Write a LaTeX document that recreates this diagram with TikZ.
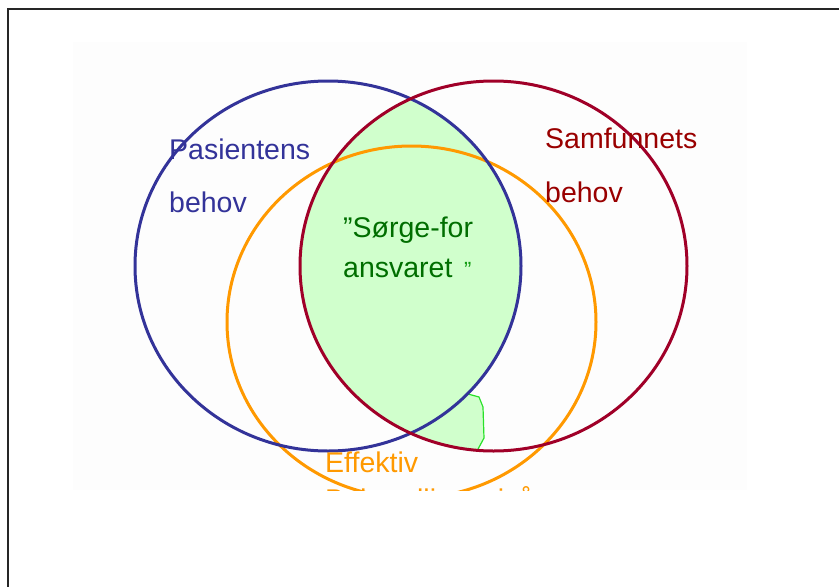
\documentclass[tikz,border=0pt]{standalone}
\usepackage{fontspec}
\setmainfont{Liberation Sans}
\usetikzlibrary{positioning}
\definecolor{pasblue}{RGB}{51,51,153}
\definecolor{samred}{RGB}{160,0,40}
\definecolor{samtext}{RGB}{153,0,0}
\definecolor{efforange}{RGB}{255,153,0}
\definecolor{sorgfill}{RGB}{208,255,204}
\definecolor{sorgtext}{RGB}{0,110,0}
\definecolor{sorgline}{RGB}{40,225,40}
\definecolor{paper}{RGB}{253,253,253}

\begin{document}
\begin{tikzpicture}[x=1pt, y=-1pt,
    ring/.style={line width=3pt},
    lbl/.style={anchor=base west, inner sep=0pt, font=\fontsize{28.5}{34}\selectfont}]
    \useasboundingbox (0,0) rectangle (839,587);
    % outer frame, runs off the page right and below
    \draw [line width=2pt, black!85] (8,600) -- (8,9) -- (850,9);
    \begin{scope}
        \clip (73,42) rectangle (747,490);
        \fill [paper] (73,42) rectangle (747,490);
        % the shared area
        \begin{scope}
            \clip (493.5,266) ellipse [x radius=193.5, y radius=185];
            \fill [sorgfill] (328,266) ellipse [x radius=193, y radius=185];
            \fill [sorgfill] (400,400) -- (468,394) -- (479,397) -- (483,407)
                -- (484,438) -- (477,451) -- (400,470) -- cycle;
        \end{scope}
        % hand drawn edge of the shared area
        \coordinate (g1) at (468,394);
        \coordinate (g2) at (479,397);
        \coordinate (g3) at (483,407);
        \coordinate (g4) at (484,438);
        \coordinate (g5) at (477,451);
        \draw [sorgline, line width=1.2pt] (g1) -- (g2) -- (g3) -- (g4) -- (g5);
        % the three circles
        \draw [ring, efforange] (411.5,322) ellipse [x radius=184.5, y radius=176];
        \draw [ring, pasblue] (328,266) ellipse [x radius=193, y radius=185];
        \draw [ring, samred] (493.5,266) ellipse [x radius=193.5, y radius=185];
        % labels
        \node [lbl, pasblue] (pas1) at (169,159) {Pasientens};
        \node [lbl, pasblue] (pas2) at (169,212) {behov};
        \node [lbl, samtext] (sam1) at (545,148) {Samfunnets};
        \node [lbl, samtext] (sam2) at (545,202) {behov};
        \node [lbl, sorgtext] (sorg1) at (343,237) {”Sørge-for};
        \node [lbl, sorgtext] (sorg2) at (343,277) {ansvaret};
        \node [lbl, sorgtext!60!sorgline, font=\fontsize{22}{26}\selectfont] (sorg3) at (464,277) {”};
        \node [lbl, efforange] (eff1) at (325,472) {Effektiv};
        \node [lbl, efforange] (eff2) at (325,509) {Behandlingsnivå};
    \end{scope}
\end{tikzpicture}
\end{document}
